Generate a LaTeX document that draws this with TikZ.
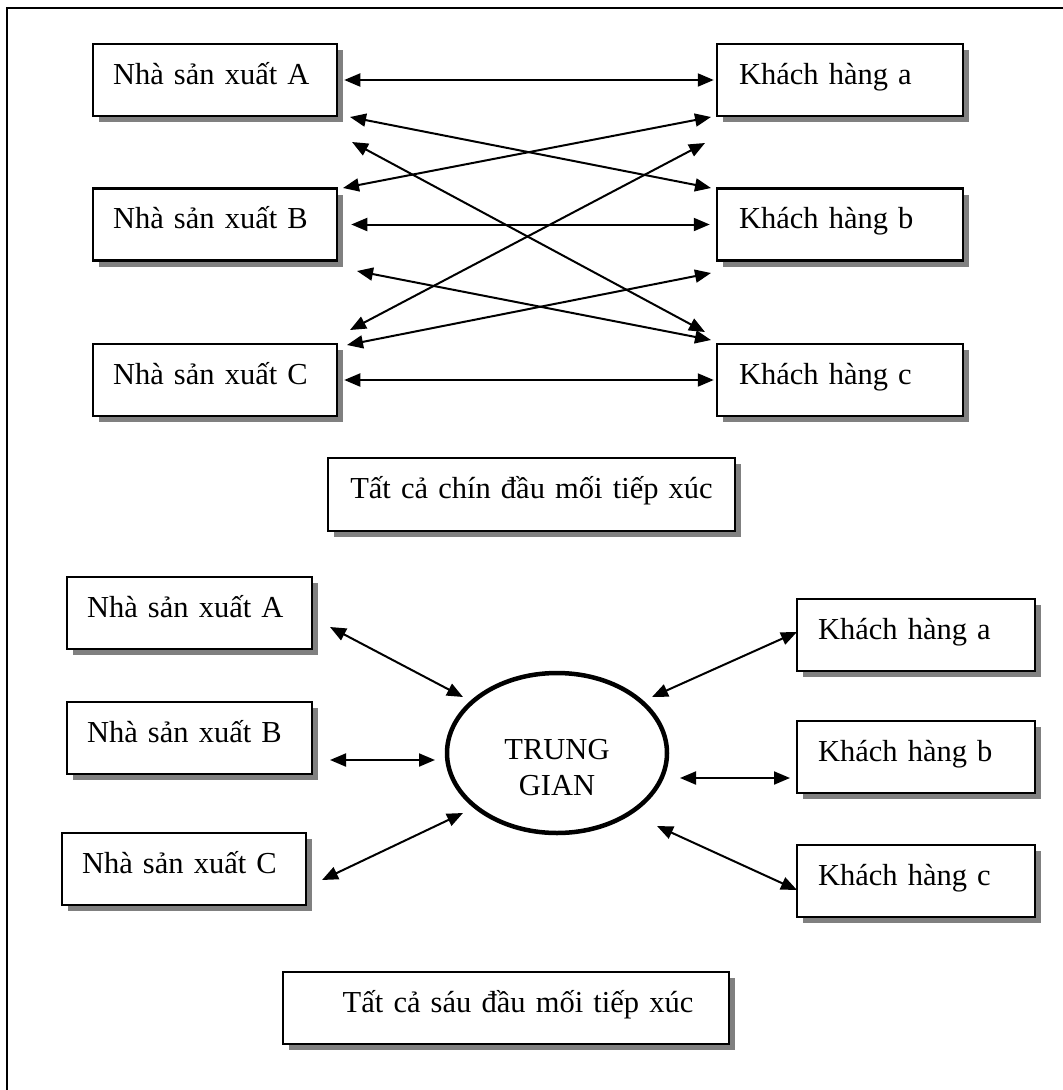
\documentclass[tikz,border=0pt]{standalone}
\usepackage{fontspec}
\setmainfont{Liberation Serif}
\usetikzlibrary{arrows.meta,shadows,shapes.geometric}
\begin{document}
\begin{tikzpicture}[x=1pt,y=-1pt,
  font=\fontsize{30.5}{36}\selectfont,
  box/.style={draw, line width=2.5pt, fill=white, inner sep=0pt,
    text height=20pt, text depth=12pt, minimum height=72pt,
    drop shadow={shadow xshift=6pt, shadow yshift=-6pt, fill=gray, opacity=1}},
  lbox/.style={box, text width=204pt, inner xsep=20pt, align=left},
  rbox/.style={box, text width=202pt, inner xsep=22pt, align=left},
  rboxb/.style={box, text width=196pt, inner xsep=21pt, align=left},
  dbl/.style={{Triangle[length=16pt,width=13pt]}-{Triangle[length=16pt,width=13pt]}, line width=2pt},
  hub/.style={draw, ellipse, line width=4.5pt, minimum width=220pt, minimum height=160pt, inner sep=0pt}
]
\useasboundingbox (0,0) rectangle (1063,1090);
\draw[line width=2.5pt] (7,1095) -- (7,8) -- (1070,8);

% top section
\node[lbox] (A1) at (215,80) {Nhà sản xuất A};
\node[lbox] (B1) at (215,224.5) {Nhà sản xuất B};
\node[lbox] (C1) at (215,380) {Nhà sản xuất C};
\node[rbox] (a1) at (840,80) {Khách hàng a};
\node[rbox] (b1) at (840,224.5) {Khách hàng b};
\node[rbox] (c1) at (840,380) {Khách hàng c};
\node[box, text width=387pt, inner xsep=10pt, align=center, minimum height=73pt] (T1) at (531.5,494.5) {Tất cả chín đầu mối tiếp xúc};

\draw[dbl] ([xshift=6pt]A1.east) -- ([xshift=-2pt]a1.west);
\draw[dbl] ([xshift=13pt]B1.east) -- ([xshift=-6pt]b1.west);
\draw[dbl] ([xshift=6pt]C1.east) -- ([xshift=-2pt]c1.west);

\coordinate (p1) at (350,117); \coordinate (q1) at (711,188);
\coordinate (p2) at (343,188); \coordinate (q2) at (711,117);
\coordinate (p3) at (352,142); \coordinate (q3) at (705,332);
\coordinate (p4) at (350,330); \coordinate (q4) at (705,143);
\coordinate (p5) at (357,271); \coordinate (q5) at (711,340);
\coordinate (p6) at (347,345); \coordinate (q6) at (711,273);
\draw[dbl] (p1) -- (q1);
\draw[dbl] (p2) -- (q2);
\draw[dbl] (p3) -- (q3);
\draw[dbl] (p4) -- (q4);
\draw[dbl] (p5) -- (q5);
\draw[dbl] (p6) -- (q6);

% bottom section
\node[lbox, text width=205pt] (A2) at (189.5,613) {Nhà sản xuất A};
\node[lbox, text width=205pt] (B2) at (189.5,738) {Nhà sản xuất B};
\node[lbox, text width=204pt] (C2) at (184,869) {Nhà sản xuất C};
\node[rboxb] (a2) at (916,635) {Khách hàng a};
\node[rboxb] (b2) at (916,757) {Khách hàng b};
\node[rboxb] (c2) at (916,881) {Khách hàng c};

\node[hub] (M) at (557,753) {};
\node[align=center, inner sep=0pt] (Mt) at (557,768) {TRUNG\\GIAN};

\coordinate (s1) at (330,627); \coordinate (t1) at (463,697);
\coordinate (s2) at (330,760); \coordinate (t2) at (435,760);
\coordinate (s3) at (322,880); \coordinate (t3) at (463,813);
\coordinate (s4) at (797,632); \coordinate (t4) at (652,697);
\coordinate (s5) at (790,778); \coordinate (t5) at (680,778);
\coordinate (s6) at (797,890); \coordinate (t6) at (657,826);
\draw[dbl] (s1) -- (t1);
\draw[dbl] (s2) -- (t2);
\draw[dbl] (s3) -- (t3);
\draw[dbl] (s4) -- (t4);
\draw[dbl] (s5) -- (t5);
\draw[dbl] (s6) -- (t6);

\node[box, text width=426pt, inner xsep=10pt, align=center] (T2) at (506,1008) {\hspace*{24pt}Tất cả sáu đầu mối tiếp xúc};
\end{tikzpicture}
\end{document}
